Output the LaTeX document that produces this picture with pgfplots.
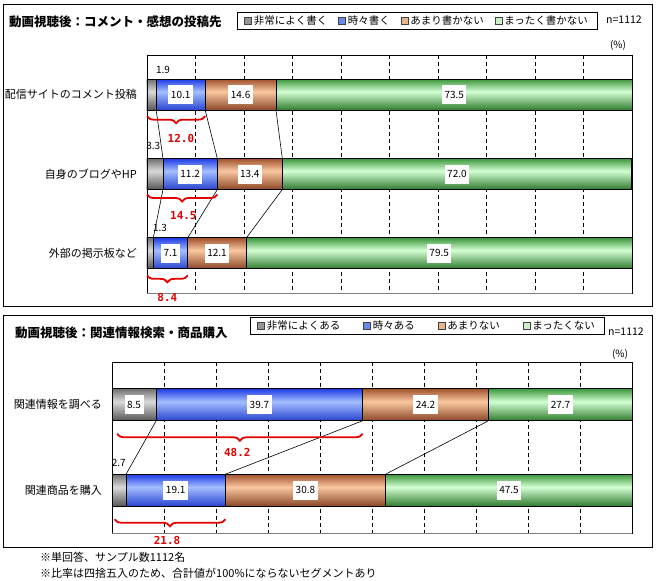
\documentclass[border=0pt]{standalone}
\usepackage{fontspec}
\setmainfont{Noto Sans CJK JP}
\newfontfamily\monob{DejaVu Sans Mono}
\usepackage{pgfplots}
\usepackage{pgfplotstable}
\pgfplotsset{compat=1.18}
\usetikzlibrary{decorations.pathreplacing}

% bar colours: dark edge, light band
\definecolor{gtop}{HTML}{707070}\definecolor{glt}{HTML}{DADADA}\definecolor{gbot}{HTML}{555555}
\definecolor{btop}{HTML}{1E3CE6}\definecolor{blt}{HTML}{A4BEFF}\definecolor{bbot}{HTML}{2844D0}
\definecolor{rtop}{HTML}{A0522D}\definecolor{rlt}{HTML}{FAC8A0}\definecolor{rbot}{HTML}{8A4626}
\definecolor{ntop}{HTML}{3C963C}\definecolor{nlt}{HTML}{D4FFD4}\definecolor{nbot}{HTML}{2E7A2E}
% legend squares
\definecolor{lg}{HTML}{969696}\definecolor{lb}{HTML}{6A8AE8}
\definecolor{lr}{HTML}{E8B48C}\definecolor{ln}{HTML}{C8F0C8}
\definecolor{bracered}{HTML}{E00000}

\pgfdeclareverticalshading{gshade}{100bp}{color(0bp)=(gbot); color(25bp)=(gbot); color(55bp)=(glt); color(75bp)=(gtop); color(100bp)=(gtop)}
\pgfdeclareverticalshading{bshade}{100bp}{color(0bp)=(bbot); color(25bp)=(bbot); color(55bp)=(blt); color(75bp)=(btop); color(100bp)=(btop)}
\pgfdeclareverticalshading{rshade}{100bp}{color(0bp)=(rbot); color(25bp)=(rbot); color(55bp)=(rlt); color(75bp)=(rtop); color(100bp)=(rtop)}
\pgfdeclareverticalshading{nshade}{100bp}{color(0bp)=(nbot); color(25bp)=(nbot); color(55bp)=(nlt); color(75bp)=(ntop); color(100bp)=(ntop)}

\pgfplotstableread{
cat a b c d
0 1.9 10.1 14.6 73.5
1 3.3 11.2 13.4 72.0
2 1.3 7.1 12.1 79.5
}\postdata

\pgfplotstableread{
cat a b c d
0 8.5 39.7 24.2 27.7
1 2.7 19.1 30.8 47.5
}\buydata

\pgfplotsset{
  panel/.style={
    scale only axis, clip=false,
    xmin=0, xmax=100, y dir=reverse,
    xtick={10,20,...,90}, xticklabels={},
    xmajorgrids, grid style={black, line width=0.7pt, dash pattern=on 4pt off 3pt},
    major tick length=0pt, tick style={draw=none},
    axis line style={black, line width=0.9pt},
    yticklabel style={font=\fontsize{11}{13}\selectfont, inner xsep=0pt, xshift=-10pt},
    legend cell align=left, legend columns=4,
    legend style={draw=black, line width=0.7pt, fill=white,
      font=\fontsize{10.5}{12}\selectfont, inner xsep=7pt, inner ysep=1.5pt},
  },
  seg/.style={xbar, /pgf/bar shift=0pt, shade, draw=black, line width=0.9pt, forget plot},
  segG/.style={seg, shading=gshade},
  segB/.style={seg, shading=bshade},
  segR/.style={seg, shading=rshade},
  segN/.style={seg, shading=nshade},
  keyG/.style={legend image code/.code={\filldraw[fill=lg, draw=black!75, line width=0.5pt] (0pt,-3.5pt) rectangle (7pt,3.5pt);}},
  keyB/.style={legend image code/.code={\filldraw[fill=lb, draw=black!75, line width=0.5pt] (0pt,-3.5pt) rectangle (7pt,3.5pt);}},
  keyR/.style={legend image code/.code={\filldraw[fill=lr, draw=black!75, line width=0.5pt] (0pt,-3.5pt) rectangle (7pt,3.5pt);}},
  keyN/.style={legend image code/.code={\filldraw[fill=ln, draw=black!75, line width=0.5pt] (0pt,-3.5pt) rectangle (7pt,3.5pt);}},
}

\tikzset{
  numbox/.style={fill=white, inner xsep=2.5pt, inner ysep=0pt, minimum height=19pt, font=\fontsize{10}{12}\selectfont},
  numplain/.style={inner sep=0pt, font=\fontsize{10}{12}\selectfont},
  link/.style={black, line width=0.6pt},
  redbrace/.style={draw=bracered, line width=1.8pt, decorate, decoration={brace, mirror, amplitude=7pt}},
  redlab/.style={text=bracered, font=\monob\bfseries\fontsize{11}{12}\selectfont, inner sep=0pt},
}

% one bar per table row (#2 = row, #3 = row+1); each segment runs from 0 to
% its running total, longest drawn first, so every bar gets its own shading
\newcommand\stackrow[3]{%
  \addplot[segN, skip coords between index={0}{#2}, skip coords between index={#3}{99}]
    table[y=cat, x expr=\thisrow{a}+\thisrow{b}+\thisrow{c}+\thisrow{d}] {#1};
  \addplot[segR, skip coords between index={0}{#2}, skip coords between index={#3}{99}]
    table[y=cat, x expr=\thisrow{a}+\thisrow{b}+\thisrow{c}] {#1};
  \addplot[segB, skip coords between index={0}{#2}, skip coords between index={#3}{99}]
    table[y=cat, x expr=\thisrow{a}+\thisrow{b}] {#1};
  \addplot[segG, skip coords between index={0}{#2}, skip coords between index={#3}{99}]
    table[y=cat, x=a] {#1};
}

\begin{document}
\begin{tikzpicture}
\useasboundingbox (0pt,0pt) rectangle (659pt,-581pt);

% ---- upper panel ----
\begin{axis}[panel, at={(147pt,-293pt)}, anchor=south west,
  width=485pt, height=238pt, ymin=-0.5, ymax=2.5, bar width=31pt,
  ytick={0,1,2},
  yticklabels={配信サイトのコメント投稿, 自身のブログやHP, 外部の掲示板など},
  legend style={at={(0.1856,1.1807)}, anchor=north west,
    /tikz/every even column/.append style={column sep=9pt}},
]
\stackrow{\postdata}{0}{1}
\stackrow{\postdata}{1}{2}
\stackrow{\postdata}{2}{3}
\addlegendimage{keyG}\addlegendimage{keyB}\addlegendimage{keyR}\addlegendimage{keyN}
\legend{非常によく書く, 時々書く, あまり書かない, まったく書かない}

\draw[gray, line width=0.9pt] (axis description cs:0,0) -- (axis description cs:1,0);

\draw[link] ([yshift=-15.5pt]axis cs:1.9,0) -- ([yshift=15.5pt]axis cs:3.3,1);
\draw[link] ([yshift=-15.5pt]axis cs:12.0,0) -- ([yshift=15.5pt]axis cs:14.5,1);
\draw[link] ([yshift=-15.5pt]axis cs:26.6,0) -- ([yshift=15.5pt]axis cs:27.9,1);
\draw[link] ([yshift=-15.5pt]axis cs:3.3,1) -- ([yshift=15.5pt]axis cs:1.3,2);
\draw[link] ([yshift=-15.5pt]axis cs:14.5,1) -- ([yshift=15.5pt]axis cs:8.4,2);
\draw[link] ([yshift=-15.5pt]axis cs:27.9,1) -- ([yshift=15.5pt]axis cs:20.5,2);

\node[numbox] at (axis cs:6.95,0) {10.1};
\node[numbox] at (axis cs:19.3,0) {14.6};
\node[numbox] at (axis cs:63.35,0) {73.5};
\node[numbox] at (axis cs:8.9,1) {11.2};
\node[numbox] at (axis cs:21.2,1) {13.4};
\node[numbox] at (axis cs:63.9,1) {72.0};
\node[numbox] at (axis cs:4.85,2) {7.1};
\node[numbox] at (axis cs:14.45,2) {12.1};
\node[numbox] at (axis cs:60.25,2) {79.5};
\node[numplain] at ([yshift=25pt]axis cs:3.3,0) {1.9};
\node[numplain] at ([yshift=28pt]axis cs:1.3,1) {3.3};
\node[numplain] at ([yshift=25pt]axis cs:2.7,2) {1.3};

\draw[redbrace] ([yshift=-21.5pt]axis cs:0,0) -- ([yshift=-21.5pt]axis cs:12.0,0);
\node[redlab] at ([yshift=-44pt]axis cs:7.0,0) {12.0};
\draw[redbrace] ([yshift=-20.5pt]axis cs:0,1) -- ([yshift=-20.5pt]axis cs:14.5,1);
\node[redlab] at ([yshift=-42pt]axis cs:7.5,1) {14.5};
\draw[redbrace] ([yshift=-22pt]axis cs:0,2) -- ([yshift=-22pt]axis cs:8.4,2);
\node[redlab] at ([yshift=-44pt]axis cs:4.2,2) {8.4};
\end{axis}

\node[anchor=west, inner sep=0pt, font=\bfseries\fontsize{12.5}{14}\selectfont] at (9pt,-22pt) {動画視聴後：コメント・感想の投稿先};
\node[anchor=west, inner sep=0pt, font=\fontsize{10.5}{12}\selectfont] at (606pt,-20pt) {n=1112};
\node[inner sep=0pt, font=\fontsize{10}{12}\selectfont] at (618pt,-45pt) {(\%)};
\draw[line width=0.9pt] (3pt,-4pt) rectangle (652pt,-306pt);

% ---- lower panel ----
\begin{axis}[panel, at={(112pt,-533pt)}, anchor=south west,
  width=520pt, height=171pt, ymin=-0.5, ymax=1.5, bar width=32pt,
  ytick={0,1},
  yticklabels={関連情報を調べる, 関連商品を購入},
  legend style={at={(0.2654,1.263)}, anchor=north west,
    /tikz/every even column/.append style={column sep=21pt}},
]
\stackrow{\buydata}{0}{1}
\stackrow{\buydata}{1}{2}
\addlegendimage{keyG}\addlegendimage{keyB}\addlegendimage{keyR}\addlegendimage{keyN}
\legend{非常によくある, 時々ある, あまりない, まったくない}

\draw[gray, line width=0.9pt] (axis description cs:0,0) -- (axis description cs:1,0);

\draw[link] ([yshift=-16pt]axis cs:8.5,0) -- ([yshift=16pt]axis cs:2.7,1);
\draw[link] ([yshift=-16pt]axis cs:48.2,0) -- ([yshift=16pt]axis cs:21.8,1);
\draw[link] ([yshift=-16pt]axis cs:72.4,0) -- ([yshift=16pt]axis cs:52.6,1);

\node[numbox] at (axis cs:4.25,0) {8.5};
\node[numbox] at (axis cs:28.35,0) {39.7};
\node[numbox] at (axis cs:60.3,0) {24.2};
\node[numbox] at (axis cs:86.25,0) {27.7};
\node[numbox] at (axis cs:12.25,1) {19.1};
\node[numbox] at (axis cs:37.2,1) {30.8};
\node[numbox] at (axis cs:76.35,1) {47.5};
\node[numplain] at ([yshift=27pt]axis cs:1.3,1) {2.7};

\draw[redbrace] ([yshift=-29pt]axis cs:1,0) -- ([yshift=-29pt]axis cs:48.2,0);
\node[redlab] at ([yshift=-48pt]axis cs:24.1,0) {48.2};
\draw[redbrace] ([yshift=-29pt]axis cs:0.5,1) -- ([yshift=-29pt]axis cs:21.8,1);
\node[redlab] at ([yshift=-50pt]axis cs:10.6,1) {21.8};
\end{axis}

\node[anchor=west, inner sep=0pt, font=\bfseries\fontsize{12.5}{14}\selectfont] at (15pt,-333pt) {動画視聴後：関連情報検索・商品購入};
\node[anchor=west, inner sep=0pt, font=\fontsize{10.5}{12}\selectfont] at (608pt,-332pt) {n=1112};
\node[inner sep=0pt, font=\fontsize{10}{12}\selectfont] at (620pt,-354pt) {(\%)};
\draw[line width=0.9pt] (3pt,-315pt) rectangle (652pt,-547pt);

\node[anchor=west, inner sep=0pt, font=\fontsize{11}{13}\selectfont] at (40pt,-557pt) {※単回答、サンプル数1112名};
\node[anchor=west, inner sep=0pt, font=\fontsize{11}{13}\selectfont] at (40pt,-573pt) {※比率は四捨五入のため、合計値が100\%にならないセグメントあり};
\end{tikzpicture}
\end{document}
